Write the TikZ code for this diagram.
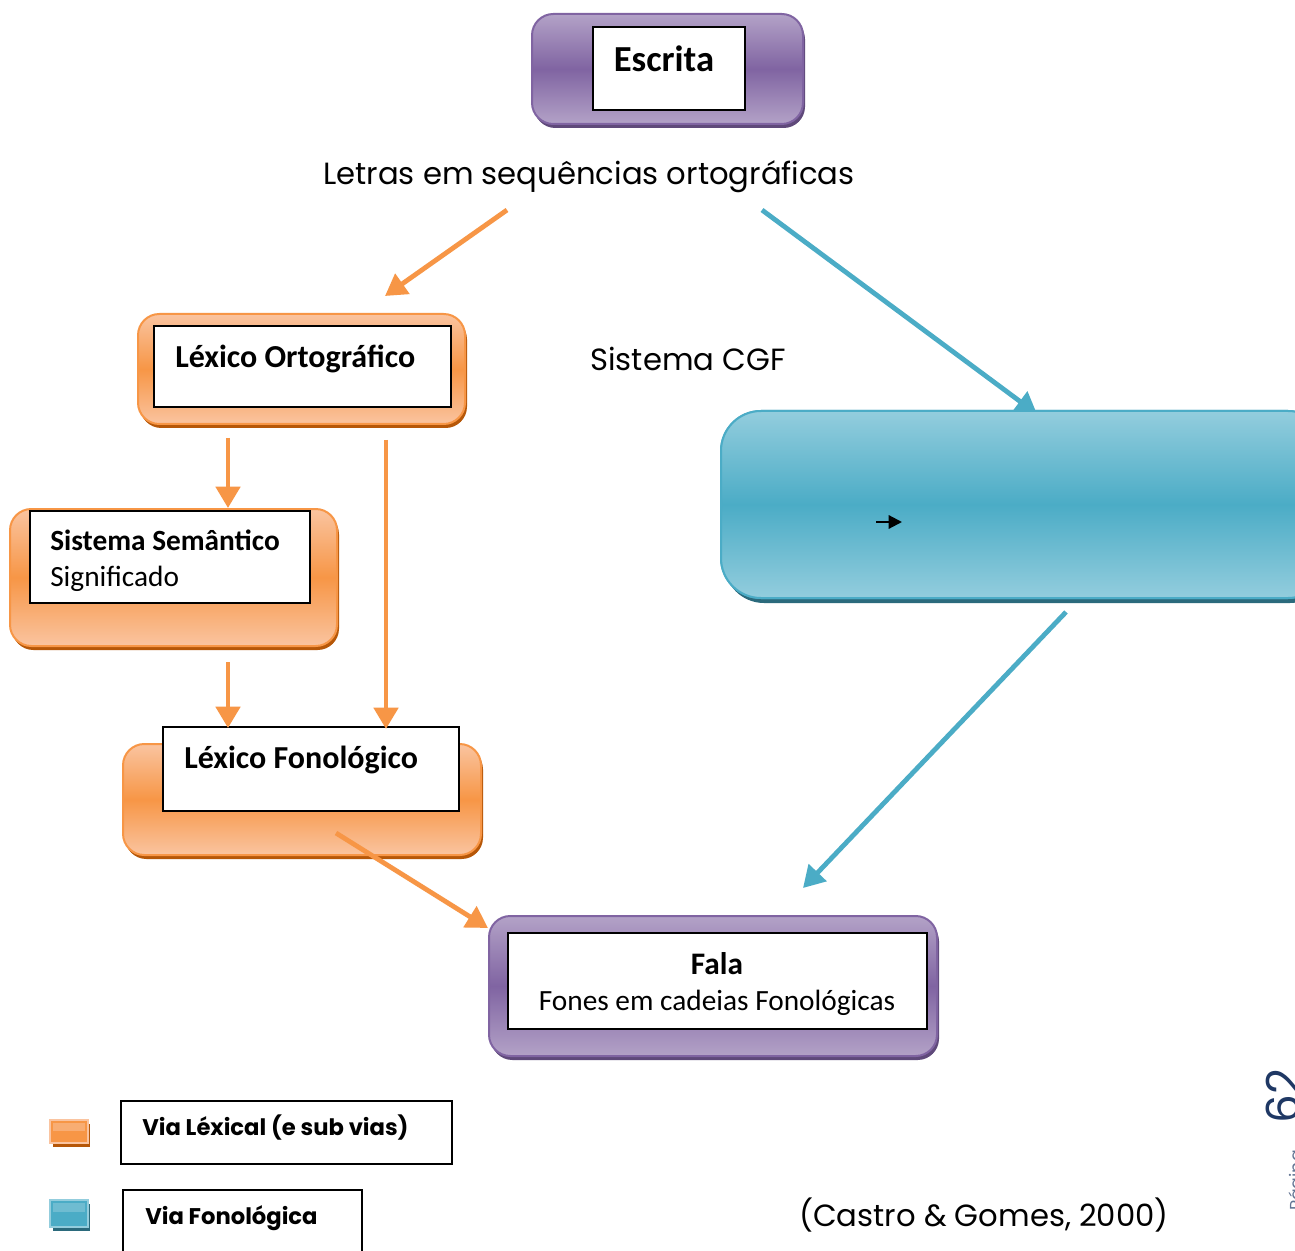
\documentclass[tikz,border=0pt]{standalone}
\usepackage{fontspec}
\setmainfont{Carlito}
\newfontfamily\gothic{Poppins}
\usetikzlibrary{arrows.meta}
\definecolor{orangeM}{HTML}{F79646}
\definecolor{orangeL}{HTML}{FAC4A0}
\definecolor{orangeD}{HTML}{B65708}
\definecolor{purpM}{HTML}{8064A2}
\definecolor{purpL}{HTML}{B3A2C7}
\definecolor{purpD}{HTML}{5F497A}
\definecolor{blueM}{HTML}{4BACC6}
\definecolor{blueL}{HTML}{93CDDD}
\definecolor{blueD}{HTML}{2B6A7C}
\definecolor{pagecol}{HTML}{1F3864}
\tikzset{
  obox/.style={top color=orangeL, bottom color=orangeL, middle color=orangeM, draw=orangeM, line width=1.5pt, rounded corners=16},
  oshadow/.style={fill=orangeD, rounded corners=16},
  pbox/.style={top color=purpL, bottom color=purpL, middle color=purpM, draw=purpM, line width=1.5pt, rounded corners=16},
  pshadow/.style={fill=purpD, rounded corners=16},
  bbox/.style={top color=blueL, bottom color=blueL, middle color=blueM, draw=blueM, line width=1.5pt, rounded corners=30},
  bshadow/.style={fill=blueD, rounded corners=30},
  wbox/.style={draw=black, fill=white, line width=1.2pt},
  oarrow/.style={draw=orangeM, line width=3.6pt, -{Triangle[length=16pt,width=18pt]}},
  barrow/.style={draw=blueM, line width=3.6pt, -{Triangle[length=16pt,width=18pt]}},
  lbl/.style={inner sep=0pt, font=\fontsize{22}{26}\selectfont},
  lblb/.style={inner sep=0pt, font=\fontsize{22}{26}\selectfont\bfseries},
  lblt/.style={inner sep=0pt, font=\fontsize{24}{28}\selectfont\bfseries},
  glbl/.style={inner sep=0pt, font=\gothic\fontsize{23}{27}\selectfont},
  legl/.style={inner sep=0pt, font=\gothic\bfseries\fontsize{17}{20}\selectfont},
}
\begin{document}
\begin{tikzpicture}[x=0.75pt, y=-0.75pt]
\path[use as bounding box, clip] (0,0) rectangle (1295,1251);
\fill[white] (0,0) rectangle (1295,1251);

% Escrita
\fill[pshadow] (534,18) rectangle (805,128);
\path[pbox] (532,14) rectangle (803,124);
\path[wbox] (593,27) rectangle (745,110);
\node[inner sep=0pt, anchor=base, font=\fontsize{27.5}{32}\selectfont\bfseries] (escrita) at (664,72) {Escrita};

\node[glbl, anchor=base] (letras) at (589,185) {Letras em sequências ortográficas};

% Lexico Ortografico
\fill[oshadow] (140,318) rectangle (467,428);
\path[obox] (138,314) rectangle (465,424);
\path[wbox] (154,326) rectangle (451,407);
\node[lblt, anchor=base west] (lort) at (175,368) {Léxico Ortográfico};

\node[glbl, anchor=base] (cgf) at (688,371) {Sistema CGF};

% Sistema Semantico
\fill[oshadow] (12,513) rectangle (339,650);
\path[obox] (10,509) rectangle (337,646);
\path[wbox] (30,511) rectangle (310,603);
\node[lblb, anchor=base west] (sem) at (50,550) {Sistema Semântico};
\node[lbl, anchor=base west] (signif) at (50,586) {Significado};

% Lexico Fonologico
\fill[oshadow] (125,748) rectangle (483,859);
\path[obox] (123,744) rectangle (481,855);
\path[wbox] (163,727) rectangle (459,811);
\node[lblt, anchor=base west] (lfon) at (184,768) {Léxico Fonológico};

% Blue box
\fill[bshadow] (724,417) rectangle (1330,603);
\path[bbox] (721,411) rectangle (1328,598);
\coordinate (sa) at (876,522);
\coordinate (sb) at (902,522);

% Fala
\fill[pshadow] (491,920) rectangle (939,1060);
\path[pbox] (489,916) rectangle (937,1056);
\path[wbox] (508,933) rectangle (927,1029);
\node[inner sep=0pt, font=\fontsize{23.5}{28}\selectfont\bfseries, anchor=base] (fala) at (717,974) {Fala};
\node[lbl, anchor=base] (fones) at (717,1010) {Fones em cadeias Fonológicas};

% arrows
\coordinate (a1s) at (507,210); \coordinate (a1e) at (385,296);
\coordinate (a2s) at (762,210); \coordinate (a2e) at (1037,414);
\coordinate (a3s) at (228,438); \coordinate (a3e) at (228,508);
\coordinate (a4s) at (386,440); \coordinate (a4e) at (386,729);
\coordinate (a5s) at (228,662); \coordinate (a5e) at (228,728);
\coordinate (a6s) at (336,833); \coordinate (a6e) at (488,928);
\coordinate (a7s) at (1066,612); \coordinate (a7e) at (803,888);
\draw[oarrow] (a1s) -- (a1e);
\draw[barrow] (a2s) -- (a2e);
\draw[oarrow] (a3s) -- (a3e);
\draw[oarrow] (a4s) -- (a4e);
\draw[oarrow] (a5s) -- (a5e);
\draw[oarrow] (a6s) -- (a6e);
\draw[barrow] (a7s) -- (a7e);
% redraw blue box top over arrow tip
\path[bbox] (721,411) rectangle (1328,598);
\draw[line width=1.6pt, -{Triangle[length=10pt,width=10pt]}] (sa) -- (sb);

% legend
\fill[orangeD] (53,1124) rectangle (90,1147);
\fill[orangeM, draw=orangeL, line width=0.8pt] (50,1120) rectangle (88,1143);
\fill[orangeL, opacity=0.5] (53,1123) rectangle (85,1131);
\draw[wbox] (121,1101) rectangle (452,1164);
\node[legl, anchor=base west] (leg1) at (142,1135) {Via Léxical (e sub vias)};

\fill[blueD] (53,1204) rectangle (90,1231);
\fill[blueM, draw=blueL, line width=0.8pt] (50,1200) rectangle (88,1227);
\fill[blueL, opacity=0.5] (53,1203) rectangle (85,1212);
\draw[wbox] (123,1190) rectangle (362,1270);
\node[legl, anchor=base west] (leg2) at (145,1224) {Via Fonológica};

\node[glbl, anchor=base] (ref) at (984,1226) {(Castro \& Gomes, 2000)};

% page number
\node[rotate=90, anchor=base east, inner sep=0pt, text=pagecol, font=\gothic\fontsize{34}{40}\selectfont] (pnum) at (1299,1068) {62};
\node[rotate=90, anchor=base east, inner sep=0pt, text=pagecol!70, font=\gothic\fontsize{13}{16}\selectfont] (pword) at (1302,1150) {Página};
\end{tikzpicture}
\end{document}
